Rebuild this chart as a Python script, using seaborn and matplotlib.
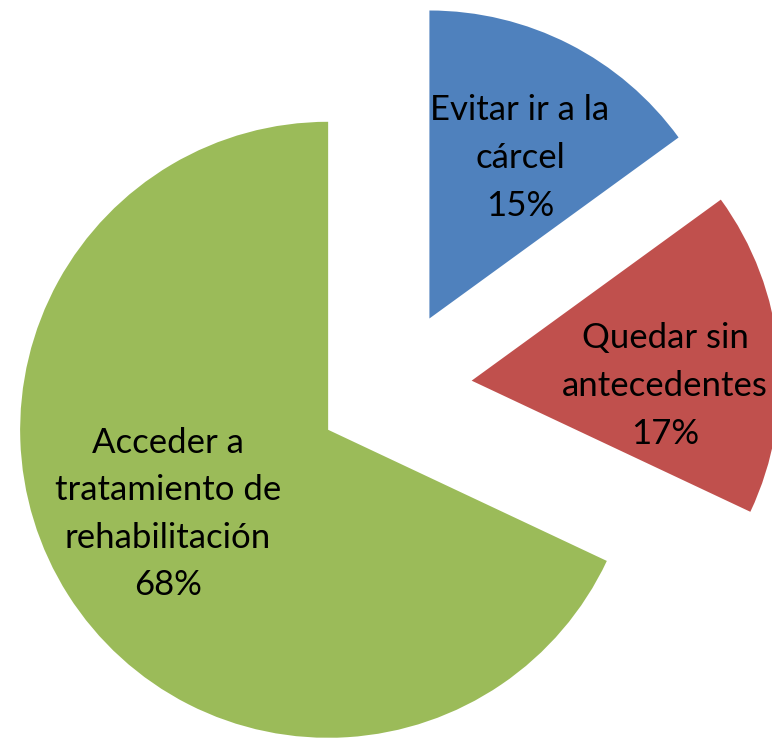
import seaborn as sns
import matplotlib.pyplot as plt

# datos del grafico
categorias = ["Evitar ir a la\ncárcel", "Quedar sin\nantecedentes", "Acceder a\ntratamiento de\nrehabilitación"]
porcentajes = [15, 17, 68]
colores = ["#4F81BD", "#C0504D", "#9BBB59"]

sns.set_style("white")
plt.rcParams["font.family"] = ["Lato", "DejaVu Sans"]

fig = plt.figure(figsize=(7.72, 7.41), dpi=100)
ax = fig.add_axes([0, 0, 1, 1])

# centro y radio en pixeles (y hacia arriba)
centro = (394, 353)
radio = 308
wedges, _ = ax.pie(
    porcentajes,
    colors=colores,
    startangle=90,
    counterclock=False,
    radius=radio,
    center=centro,
    explode=[78, 78, 78],
    wedgeprops={"linewidth": 0},
)
ax.set_xlim(0, 772)
ax.set_ylim(0, 741)
ax.set_aspect("equal")
ax.axis("off")

# posiciones de las etiquetas
pos_etiquetas = [(520, 741 - 158), (665, 741 - 386), (168, 741 - 514)]
for cat, pct, (x, y) in zip(categorias, porcentajes, pos_etiquetas):
    ax.text(x, y, f"{cat}\n{pct}%", ha="center", va="center",
            fontsize=25, linespacing=1.6, color="black")

plt.savefig("out.png", dpi=100)
